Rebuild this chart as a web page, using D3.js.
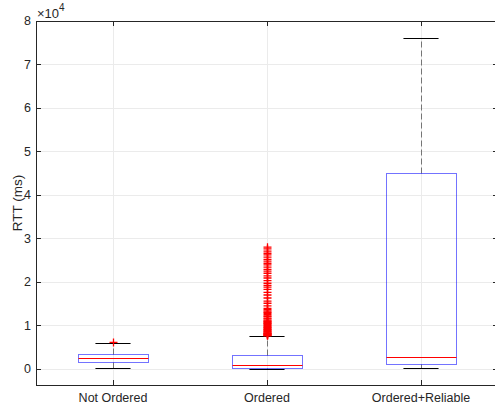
<!DOCTYPE html>
<html>
<head>
<meta charset="utf-8">
<script src="https://cdn.jsdelivr.net/npm/d3@7"></script>
<style>
  body { margin:0; background:#fff; }
  svg { display:block; font-family:"Liberation Sans", Arial, sans-serif; }
</style>
</head>
<body>
<div id="chart"></div>
<script>
// groups along the x axis
var categories = ["Not Ordered", "Ordered", "Ordered+Reliable"];

// box statistics per group (ms)
var whiskerLow  = [150, 50, 150];
var q1          = [1600, 200, 1100];
var medians     = [2450, 850, 2750];
var q3          = [3400, 3150, 45000];
var whiskerHigh = [6000, 7500, 76200];

// outliers per group (ms)
var outliers = [
    [6100],
    [7600, 7700, 7800, 7900, 8000, 8100, 8200, 8300, 8500, 8600, 8800, 9000,
     9100, 9300, 9500, 9600, 9800, 10000, 10200, 10400, 10500, 10700, 10900,
     11000, 11200, 11500, 11700, 12000, 12200, 12500, 12800, 13000, 13300,
     13600, 13900, 14500, 15100, 15600, 16300, 17000, 17600, 18300, 18800,
     19200, 19700, 20300, 20900, 21400, 22000, 22500, 22900, 23400, 23900,
     24300, 24800, 25200, 25700, 26200, 26600, 27100, 27600, 28000],
    []
];

var yTicks = [0, 10000, 20000, 30000, 40000, 50000, 60000, 70000, 80000];
var yLimits = [-3700, 80000];

var W = 495, H = 409;
var m = {left:36, right:498, top:21, bottom:385};
var axisColor = "#262626";

var svg = d3.select("#chart").append("svg")
    .attr("width", W).attr("height", H);

var x = d3.scaleLinear().domain([0.5, categories.length + 0.5]).range([m.left, m.right]);
var y = d3.scaleLinear().domain(yLimits).range([m.bottom, m.top]);

var px = function(v){ return Math.round(x(v)) + 0.5; };
var py = function(v){ return Math.round(y(v)) + 0.5; };

// grid
var grid = svg.append("g").attr("class","grid");
grid.selectAll("line.h").data(yTicks).enter().append("line")
    .attr("x1", m.left).attr("x2", m.right)
    .attr("y1", py).attr("y2", py)
    .style("stroke","#ebebeb").style("stroke-width",1);
grid.selectAll("line.v").data(categories).enter().append("line")
    .attr("x1", function(d,i){ return px(i+1); })
    .attr("x2", function(d,i){ return px(i+1); })
    .attr("y1", m.top).attr("y2", m.bottom)
    .style("stroke","#ebebeb").style("stroke-width",1);

// boxes
var boxW = 0.455, capW = 0.228;
var boxes = svg.append("g").selectAll("g.box").data(categories).enter()
    .append("g").attr("class","box");

boxes.each(function(d,i){
    var g = d3.select(this), c = i + 1;
    var xc = px(c);

    // whiskers
    g.append("line")
        .attr("x1", xc).attr("x2", xc)
        .attr("y1", py(q3[i])).attr("y2", py(whiskerHigh[i]))
        .style("stroke","#000").style("stroke-opacity",0.5)
        .style("stroke-dasharray","6,3");
    g.append("line")
        .attr("x1", xc).attr("x2", xc)
        .attr("y1", py(q1[i])).attr("y2", py(whiskerLow[i]))
        .style("stroke","#000").style("stroke-opacity",0.5)
        .style("stroke-dasharray","6,3");

    // caps
    [whiskerHigh[i], whiskerLow[i]].forEach(function(v){
        g.append("line")
            .attr("x1", x(c - capW/2)).attr("x2", x(c + capW/2))
            .attr("y1", py(v)).attr("y2", py(v))
            .style("stroke","#000").style("stroke-width",1);
    });

    // box
    g.append("rect")
        .attr("x", Math.round(x(c - boxW/2)) + 0.5)
        .attr("y", py(q3[i]))
        .attr("width", Math.round(x(c + boxW/2)) - Math.round(x(c - boxW/2)))
        .attr("height", py(q1[i]) - py(q3[i]))
        .style("fill","none").style("stroke","#0000ff").style("stroke-opacity",0.55);

    // median
    g.append("line")
        .attr("x1", Math.round(x(c - boxW/2)) + 0.5).attr("x2", Math.round(x(c + boxW/2)) + 0.5)
        .attr("y1", py(medians[i])).attr("y2", py(medians[i]))
        .style("stroke","#ff0000").style("stroke-width",1);

    // outliers
    g.selectAll("path.out").data(outliers[i]).enter().append("path")
        .attr("class","out")
        .attr("d", function(v){
            var yy = y(v), s = 4;
            return "M" + (xc - s) + "," + yy + "H" + (xc + s) +
                   "M" + xc + "," + (yy - s) + "V" + (yy + s);
        })
        .style("stroke","#ff0000").style("stroke-width",1.3).style("fill","none");
});

// axes frame
var frame = svg.append("g");
frame.append("rect")
    .attr("x", m.left + 0.5).attr("y", m.top + 0.5)
    .attr("width", m.right - m.left).attr("height", m.bottom - m.top)
    .style("fill","none").style("stroke",axisColor).style("stroke-width",1);

// y ticks (both sides)
var yt = frame.selectAll("g.ytick").data(yTicks).enter().append("g").attr("class","ytick");
yt.append("line")
    .attr("x1", m.left).attr("x2", m.left + 5)
    .attr("y1", py).attr("y2", py)
    .style("stroke",axisColor);
yt.append("line")
    .attr("x1", m.right - 5).attr("x2", m.right)
    .attr("y1", py).attr("y2", py)
    .style("stroke",axisColor);
yt.append("text")
    .attr("x", m.left - 5).attr("y", function(d){ return y(d); })
    .attr("dy","0.35em")
    .attr("text-anchor","end")
    .style("font-size","12.5px").style("fill",axisColor)
    .text(function(d){ return d / 10000; });

// x ticks (both sides)
var xt = frame.selectAll("g.xtick").data(categories).enter().append("g").attr("class","xtick");
xt.append("line")
    .attr("x1", function(d,i){ return px(i+1); }).attr("x2", function(d,i){ return px(i+1); })
    .attr("y1", m.bottom).attr("y2", m.bottom - 5)
    .style("stroke",axisColor);
xt.append("line")
    .attr("x1", function(d,i){ return px(i+1); }).attr("x2", function(d,i){ return px(i+1); })
    .attr("y1", m.top).attr("y2", m.top + 5)
    .style("stroke",axisColor);
xt.append("text")
    .attr("x", function(d,i){ return x(i+1); })
    .attr("y", m.bottom + 13)
    .attr("dy","0.35em")
    .attr("text-anchor","middle")
    .style("font-size","12.5px").style("fill",axisColor)
    .text(function(d){ return d; });

// exponent label
var ex = svg.append("text")
    .attr("x", m.left + 1).attr("y", 17.5)
    .style("font-size","13px").style("fill",axisColor);
ex.append("tspan").text("\u00d710");
ex.append("tspan").attr("dy", -7).style("font-size","10px").text("4");

// y label
svg.append("text")
    .attr("transform","translate(17," + ((m.top + m.bottom) / 2) + ") rotate(-90)")
    .attr("text-anchor","middle")
    .attr("dy","0.35em")
    .style("font-size","13.5px").style("fill",axisColor)
    .text("RTT (ms)");
</script>
</body>
</html>
